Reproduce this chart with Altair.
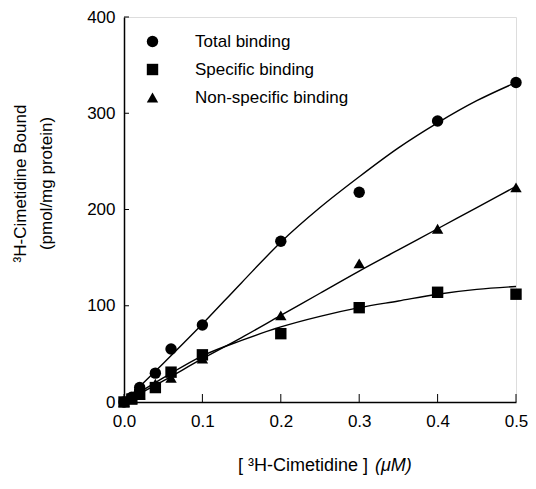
import altair as alt
import pandas as pd

# ---- data ----
conc = [0.0, 0.01, 0.02, 0.04, 0.06, 0.1, 0.2, 0.3, 0.4, 0.5]
total = [0, 5, 15, 30, 55, 80, 167, 218, 292, 332]
specific = [0, 3, 8, 15, 31, 49, 71, 98, 114, 112]
nonspecific = [0, 3, 8, 19, 25, 45, 90, 144, 180, 223]

curve_x = [0.0, 0.05, 0.1, 0.15, 0.2, 0.25, 0.3, 0.35, 0.4, 0.45, 0.5]
curve_total = [0, 40, 81, 124, 166, 202, 234, 264, 290, 313, 332]
curve_specific = [0, 25, 48, 64, 78, 89, 98, 105, 112, 117, 120]
curve_nonspecific = [0, 22, 45, 67, 90, 113, 136, 158, 180, 202, 224]

series = ["Total binding", "Specific binding", "Non-specific binding"]
shapes = ["circle", "square", "triangle-up"]

x_ticks = [0.0, 0.1, 0.2, 0.3, 0.4, 0.5]
y_ticks = [0, 100, 200, 300, 400]

FONT = "Liberation Sans"

pts = pd.DataFrame(
    [{"x": c, "y": v, "s": series[0]} for c, v in zip(conc, total)]
    + [{"x": c, "y": v, "s": series[1]} for c, v in zip(conc, specific)]
    + [{"x": c, "y": v, "s": series[2]} for c, v in zip(conc, nonspecific)]
)
curves = pd.DataFrame(
    [{"x": c, "y": v, "s": series[0]} for c, v in zip(curve_x, curve_total)]
    + [{"x": c, "y": v, "s": series[1]} for c, v in zip(curve_x, curve_specific)]
    + [{"x": c, "y": v, "s": series[2]} for c, v in zip(curve_x, curve_nonspecific)]
)

xscale = alt.Scale(domain=[0, 0.5], nice=False, zero=False)
yscale = alt.Scale(domain=[0, 400], nice=False)

xaxis = alt.Axis(values=x_ticks, format=".1f", title=None, grid=False, ticks=False,
                 labelFlush=False, labelOverlap=False,
                 labelPadding=11, labelFontSize=17, labelFont=FONT, labelColor="black",
                 domainColor="black", domainWidth=1.5)
yaxis = alt.Axis(values=y_ticks, format="d", grid=False, ticks=False,
                 labelFlush=False, labelOverlap=False,
                 title=["³H-Cimetidine Bound", "(pmol/mg protein)"],
                 titleFont=FONT, titleFontSize=17, titleFontWeight="normal",
                 titleColor="black", titleLineHeight=26, titleAngle=-90,
                 titleX=-104, titleY=166, titleAlign="center", titleBaseline="middle",
                 labelPadding=9, labelFontSize=17, labelFont=FONT, labelColor="black",
                 domainColor="black", domainWidth=1.5)

X = alt.X("x:Q", scale=xscale, axis=xaxis)
Y = alt.Y("y:Q", scale=yscale, axis=yaxis)

lines = alt.Chart(curves).mark_line(color="black", strokeWidth=1.4, interpolate="monotone").encode(
    x=X, y=Y, detail="s:N"
)

points = alt.Chart(pts).mark_point(filled=True, color="black", opacity=1, size=130).encode(
    x=X, y=Y,
    shape=alt.Shape("s:N", scale=alt.Scale(domain=series, range=shapes),
                    legend=alt.Legend(title=None, orient="none", legendX=20, legendY=16,
                                      padding=0, labelFont=FONT, labelFontSize=17,
                                      labelColor="black", labelOffset=34, rowPadding=10,
                                      symbolSize=130, symbolFillColor="black",
                                      symbolStrokeColor="black", symbolStrokeWidth=0)),
)

xt = alt.Chart(pd.DataFrame({"x": x_ticks})).mark_rule(color="black", strokeWidth=1).encode(
    x=X, y=alt.value(385), y2=alt.value(377)
)
yt = alt.Chart(pd.DataFrame({"y": y_ticks})).mark_rule(color="black", strokeWidth=1).encode(
    y=Y, x=alt.value(0), x2=alt.value(5)
)

title1 = alt.Chart(pd.DataFrame({"t": ["[ ³H-Cimetidine ]"]})).mark_text(
    font=FONT, fontSize=18, align="left", baseline="middle", color="black"
).encode(text="t:N", x=alt.value(114), y=alt.value(449))
title2 = alt.Chart(pd.DataFrame({"t": ["(μM)"]})).mark_text(
    font=FONT, fontSize=18, fontStyle="italic", align="left", baseline="middle", color="black"
).encode(text="t:N", x=alt.value(251), y=alt.value(449))

chart = alt.layer(lines, points, xt, yt, title1, title2).properties(
    width=392, height=385,
    autosize=alt.AutoSizeParams(type="none"),
    padding={"left": 116, "top": 9, "right": 12, "bottom": 75},
).configure_view(stroke=None).configure(background="white")

chart.save("out.html", embed_options={"renderer": "svg", "actions": False})
